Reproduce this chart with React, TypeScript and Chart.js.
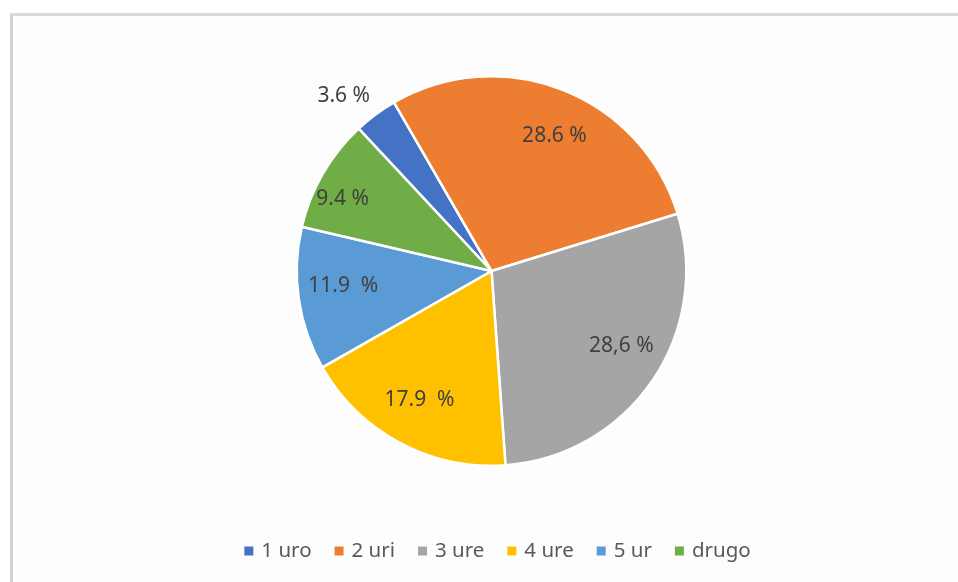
import React, { useEffect, useRef } from "react";
import { Chart, registerables } from "chart.js";

Chart.register(...registerables);

const categories = ["1 uro", "2 uri", "3 ure", "4 ure", "5 ur", "drugo"];
const values = [3.6, 28.6, 28.6, 17.9, 11.9, 9.4];
const valueLabels = ["3.6 %", "28.6 %", "28,6 %", "17.9  %", "11.9  %", "9.4 %"];
const colors = ["#4472C4", "#ED7D31", "#A5A5A5", "#FFC000", "#5B9BD5", "#70AD47"];
const labelRadiusFactor = [1.175, 0.766, 0.77, 0.76, 0.765, 0.85];
const labelAngleOffsetDeg = [-3.7, 3.5, -4.4, 1, 2.5, -4.2];

const FONT = "'Noto Sans', 'Liberation Sans', sans-serif";

const labelPlugin = {
  id: "sliceLabels",
  afterDatasetsDraw(chart: any) {
    const ctx = chart.ctx;
    const meta = chart.getDatasetMeta(0);
    ctx.save();
    ctx.font = `21px ${FONT}`;
    ctx.fillStyle = "#404040";
    ctx.textAlign = "center";
    ctx.textBaseline = "middle";
    meta.data.forEach((arc: any, i: number) => {
      const { x, y, startAngle, endAngle, outerRadius } = arc.getProps(
        ["x", "y", "startAngle", "endAngle", "outerRadius"],
        true
      );
      const mid = (startAngle + endAngle) / 2 + (labelAngleOffsetDeg[i] * Math.PI) / 180;
      const r = outerRadius * labelRadiusFactor[i];
      ctx.fillText(valueLabels[i], x + Math.cos(mid) * r, y + Math.sin(mid) * r);
    });
    ctx.restore();
  },
};

const legendPlugin = {
  id: "customLegend",
  afterDraw(chart: any) {
    const ctx = chart.ctx;
    ctx.save();
    ctx.font = `20.5px ${FONT}`;
    const box = 9;
    const gapBoxText = 8;
    const gapItems = 23;
    const widths = categories.map((c) => box + gapBoxText + ctx.measureText(c).width);
    const total = widths.reduce((a, b) => a + b, 0) + gapItems * (categories.length - 1);
    let x = (chart.chartArea.left + chart.chartArea.right) / 2 + 6 - total / 2;
    const y = chart.chartArea.bottom + 84;
    ctx.textBaseline = "middle";
    ctx.textAlign = "left";
    categories.forEach((c, i) => {
      ctx.fillStyle = colors[i];
      ctx.fillRect(x, y - box / 2, box, box);
      ctx.fillStyle = "#595959";
      ctx.fillText(c, x + box + gapBoxText, y);
      x += widths[i] + gapItems;
    });
    ctx.restore();
  },
};

export default function App() {
  const ref = useRef<HTMLCanvasElement>(null);
  useEffect(() => {
    if (!ref.current) return;
    const chart = new Chart(ref.current, {
      type: "pie",
      data: {
        labels: categories,
        datasets: [
          {
            data: values,
            backgroundColor: colors,
            borderColor: "#ffffff",
            borderWidth: 2.5,
          },
        ],
      },
      options: {
        animation: false,
        responsive: false,
        rotation: -43,
        layout: { padding: { top: 75, bottom: 115, left: 25, right: 0 } },
        plugins: {
          legend: { display: false },
          tooltip: { enabled: false },
        },
      },
      plugins: [labelPlugin, legendPlugin],
    });
    return () => chart.destroy();
  }, []);

  return (
    <div style={{ position: "fixed", left: 0, top: 0, width: 958, height: 582, background: "#ffffff" }}>
      <div
        style={{
          position: "absolute",
          left: 10,
          top: 13,
          width: 948,
          height: 569,
          borderTop: "3px solid #d9d9d9",
          borderLeft: "3px solid #d3d3d3",
          background: "#fdfdfd",
          boxSizing: "border-box",
        }}
      />
      <canvas ref={ref} width={958} height={582} style={{ position: "absolute", left: 0, top: 0 }} />
    </div>
  );
}
